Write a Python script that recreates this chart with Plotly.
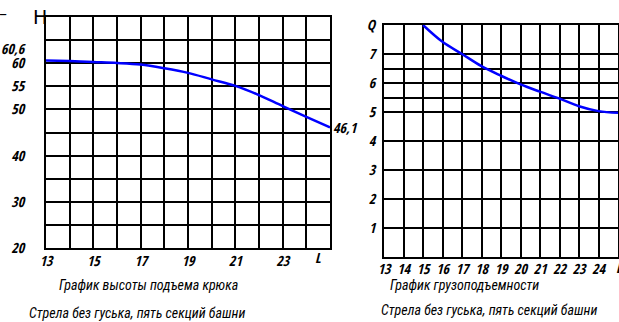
import plotly.graph_objects as go

W, H = 619, 322

# ---- data ----
boom_len_h = [13, 14, 15, 16, 17, 18, 19, 20, 21, 22, 23, 24, 25]
hook_height = [60.6, 60.45, 60.25, 60.05, 59.7, 58.9, 57.9, 56.5, 55.1, 53.1, 50.7, 48.4, 46.1]

boom_len_q = [15, 16, 17, 18, 19, 20, 21, 22, 23, 24, 25]
capacity = [8.0, 7.42, 7.0, 6.58, 6.25, 5.95, 5.7, 5.46, 5.2, 5.03, 4.97]

h_x_grid = list(range(13, 26))
h_x_text = ["13", "", "15", "", "17", "", "19", "", "21", "", "23", "", ""]
h_y_grid = [20, 25, 30, 35, 40, 45, 50, 55, 60, 65, 70]
h_y_text = ["20", "", "30", "", "40", "", "50", "55", "60", "", ""]

q_x_grid = list(range(13, 26))
q_x_text = [str(v) for v in range(13, 25)] + [""]
q_y_grid = [1, 2, 3, 4, 5, 5.5, 6, 6.5, 7, 8]
q_y_text = ["1", "2", "3", "4", "5", "", "6", "", "7", "Q"]

title_h = "График высоты подъема крюка"
title_q = "График грузоподъемности"
subtitle = "Стрела без гуська, пять секций башни"

TICK_FONT = "Open Sans Condensed, Roboto Condensed, sans-serif"
TEXT_FONT = "Roboto Condensed, Open Sans Condensed, sans-serif"
tickfont = dict(family=TICK_FONT, size=14, color="black", style="italic", weight="bold")
ann_font = dict(family=TEXT_FONT, size=14, color="black", style="italic")

def px(x):
    return x / W

def py(y):
    return 1 - y / H

fig = go.Figure()
fig.add_trace(go.Scatter(x=boom_len_h, y=hook_height, mode="lines",
                         line=dict(color="#0000ff", width=2.5, shape="spline"),
                         xaxis="x", yaxis="y", showlegend=False, hoverinfo="skip"))
fig.add_trace(go.Scatter(x=boom_len_q, y=capacity, mode="lines",
                         line=dict(color="#0000ff", width=2.5, shape="spline"),
                         xaxis="x2", yaxis="y2", showlegend=False, hoverinfo="skip"))

axis_common = dict(showgrid=True, gridcolor="black", gridwidth=2, showline=True,
                   linecolor="black", linewidth=2, mirror=True, zeroline=False,
                   ticks="", tickmode="array", tickfont=tickfont, tickangle=0,
                   automargin=False, fixedrange=True)

fig.update_layout(
    template="none",
    width=W, height=H,
    margin=dict(l=0, r=0, t=0, b=0, pad=0),
    paper_bgcolor="white", plot_bgcolor="white",
    xaxis=dict(domain=[px(46), px(330)], range=[13, 25], anchor="y",
               tickvals=h_x_grid, ticktext=h_x_text, ticklabelstandoff=-1, **axis_common),
    yaxis=dict(domain=[py(248), py(17)], range=[20, 70], anchor="x",
               tickvals=h_y_grid, ticktext=h_y_text, ticklabelstandoff=17, **axis_common),
    xaxis2=dict(domain=[px(384), px(618)], range=[13, 25], anchor="y2",
                tickvals=q_x_grid, ticktext=q_x_text, ticklabelstandoff=-2, **axis_common),
    yaxis2=dict(domain=[py(257), py(25)], range=[0, 8], anchor="x2",
                tickvals=q_y_grid, ticktext=q_y_text, ticklabelstandoff=4, **axis_common),
)

annotations = [
    dict(text="L", x=24.5, xref="x", y=py(257), yref="paper", showarrow=False,
         font=tickfont, xanchor="center", yanchor="middle"),
    dict(text="L", x=25, xref="x2", y=py(267), yref="paper", showarrow=False,
         font=tickfont, xanchor="left", yanchor="middle", xshift=-4),
    dict(text="60,6", x=px(28), xref="paper", y=py(48), yref="paper", showarrow=False,
         font=tickfont, xanchor="right", yanchor="middle"),
    dict(text="46,1", x=25, xref="x", y=hook_height[-1], yref="y", showarrow=False,
         font=tickfont, xanchor="left", yanchor="middle", xshift=1),
    dict(text="Н", x=px(40), xref="paper", y=py(17), yref="paper", showarrow=False,
         font=dict(family="DejaVu Sans, sans-serif", size=19, color="black"),
         xanchor="center", yanchor="middle"),
    dict(text="–", x=px(3), xref="paper", y=py(13), yref="paper", showarrow=False,
         font=dict(family="DejaVu Sans, sans-serif", size=16, color="black"),
         xanchor="center", yanchor="middle"),
    dict(text=title_h, x=px(148), xref="paper", y=py(285), yref="paper", showarrow=False,
         font=ann_font, xanchor="center", yanchor="middle"),
    dict(text=subtitle, x=px(137), xref="paper", y=py(313), yref="paper", showarrow=False,
         font=ann_font, xanchor="center", yanchor="middle"),
    dict(text=title_q, x=px(464), xref="paper", y=py(285), yref="paper", showarrow=False,
         font=ann_font, xanchor="center", yanchor="middle"),
    dict(text=subtitle, x=px(489), xref="paper", y=py(310), yref="paper", showarrow=False,
         font=ann_font, xanchor="center", yanchor="middle"),
]
fig.update_layout(annotations=annotations)

fig.write_html("out.html", config={"displayModeBar": False, "staticPlot": True},
               post_script="document.body.style.margin='0';document.body.style.overflow='hidden';")
